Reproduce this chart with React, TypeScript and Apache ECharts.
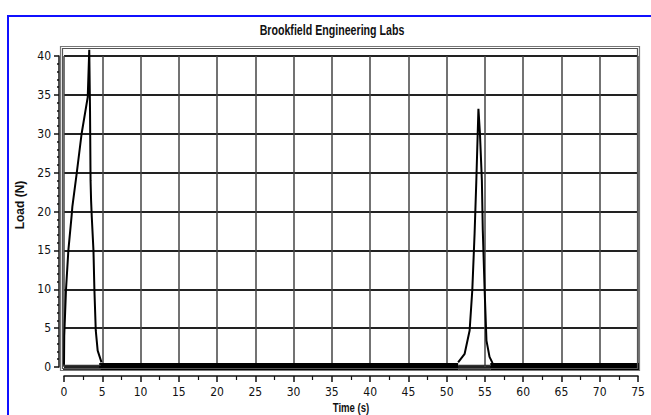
import React, { useEffect, useRef } from "react";
import * as echarts from "echarts";

const titleText = "Brookfield Engineering Labs";
const xAxisName = "Time (s)";
const yAxisName = "Load (N)";

// first load cycle (time s, load N)
const peak1Time = [0, 0.03, 0.26, 0.57, 1.0, 1.09, 1.66, 2.3, 3.1, 3.3, 3.4, 3.47, 3.54, 3.63, 3.85, 3.97, 4.15, 4.4, 4.9];
const peak1Load = [0.3, 4, 9.9, 15, 19.5, 20.6, 24.9, 30, 34.7, 40.8, 33, 24, 21.4, 19.3, 15, 10, 4.7, 2.1, 0.6];

// second load cycle
const peak2Time = [51.5, 52.35, 53.0, 53.35, 53.65, 53.87, 54.15, 54.35, 54.6, 54.72, 54.96, 55.2, 55.6, 56.0];
const peak2Load = [0.6, 1.7, 4.7, 9.9, 17.2, 23.8, 33.2, 30, 24, 17.6, 9.9, 3.4, 1.3, 0.5];

// baseline noise band segments (time start/end), load level
const bandStart = [4.6, 55.7];
const bandEnd = [51.5, 75.2];
const bandLoad = 0;

// hollow baseline segments under the peaks
const hollowStart = [-0.35, 51.5];
const hollowEnd = [4.8, 55.7];
const hollowUpper = 0.2;
const hollowLower = -0.33;

const FONT = '"DejaVu Sans Condensed", "Liberation Sans Narrow", sans-serif';
const TITLE_FONT = '"Liberation Sans", Arial, sans-serif';

function pairs(t: number[], v: number[]) {
  return t.map((x, i) => [x, v[i]]);
}

function segments(starts: number[], ends: number[], level: number) {
  const out: any[] = [];
  starts.forEach((s, i) => {
    out.push([s, level]);
    out.push([ends[i], level]);
    if (i < starts.length - 1) out.push([ends[i], "-"]);
  });
  return out;
}

export default function App() {
  const ref = useRef<HTMLDivElement>(null);
  useEffect(() => {
    document.body.style.margin = "0";
    const chart = echarts.init(ref.current!, null, { renderer: "svg" });
    const lineBase = { type: "line", showSymbol: false, symbol: "none", clip: false, animation: false };
    chart.setOption({
      animation: false,
      backgroundColor: "#ffffff",
      grid: { left: 64, right: 13, top: 56, bottom: 48, containLabel: false },
      xAxis: {
        type: "value",
        min: 0,
        max: 75,
        interval: 5,
        offset: 9,
        axisLine: { show: true, onZero: false, lineStyle: { color: "#111", width: 1.5 } },
        axisTick: { show: true, length: 6, lineStyle: { color: "#111", width: 1.5 } },
        minorTick: { show: true, splitNumber: 2, length: 4, lineStyle: { color: "#111", width: 1.2 } },
        axisLabel: { color: "#111", fontFamily: FONT, fontSize: 12, margin: 10 },
        splitLine: { show: true, lineStyle: { color: "#444", width: 1.5 } },
      },
      yAxis: {
        type: "value",
        min: 0,
        max: 40,
        interval: 5,
        offset: 5,
        axisLine: { show: true, onZero: false, lineStyle: { color: "#111", width: 1.5 } },
        axisTick: { show: true, length: 5, lineStyle: { color: "#111", width: 1.5 } },
        minorTick: { show: true, splitNumber: 5, length: 2, lineStyle: { color: "#111", width: 1.5 } },
        axisLabel: { color: "#111", fontFamily: FONT, fontSize: 12, margin: 8 },
        splitLine: { show: true, lineStyle: { color: "#222", width: 2 } },
      },
      graphic: [
        {
          type: "rect",
          shape: { x: 8, y: 16, width: 800, height: 600 },
          style: { fill: "none", stroke: "#1010ff", lineWidth: 2 },
          z: 0,
        },
        {
          type: "rect",
          shape: { x: 60.5, y: 46.5, width: 579, height: 324 },
          style: { fill: "none", stroke: "#777", lineWidth: 1.2 },
          z: 10,
        },
        {
          type: "rect",
          shape: { x: 62.5, y: 48.5, width: 575, height: 320 },
          style: { fill: "none", stroke: "#555", lineWidth: 1.2 },
          z: 10,
        },
        {
          type: "text",
          x: 332,
          y: 30,
          scaleX: 0.76,
          style: { text: titleText, fontFamily: TITLE_FONT, fontWeight: "bold", fontSize: 14, fill: "#111", textAlign: "center", textVerticalAlign: "middle" },
          z: 10,
        },
        {
          type: "text",
          x: 351,
          y: 408,
          scaleX: 0.8,
          style: { text: xAxisName, fontFamily: TITLE_FONT, fontWeight: "bold", fontSize: 12, fill: "#111", textAlign: "center", textVerticalAlign: "middle" },
          z: 10,
        },
        {
          type: "text",
          x: 20,
          y: 205,
          rotation: Math.PI / 2,
          style: { text: yAxisName, fontFamily: TITLE_FONT, fontWeight: "bold", fontSize: 12, fill: "#111", textAlign: "center", textVerticalAlign: "middle" },
          z: 10,
        },
      ],
      series: [
        { ...lineBase, name: "band", data: segments(bandStart, bandEnd, bandLoad), lineStyle: { color: "#000", width: 8 }, z: 3 },
        { ...lineBase, name: "hollowUpper", data: segments(hollowStart, hollowEnd, hollowUpper), lineStyle: { color: "#333", width: 1.2 }, z: 3 },
        { ...lineBase, name: "hollowLower", data: segments(hollowStart, hollowEnd, hollowLower), lineStyle: { color: "#333", width: 1.2 }, z: 3 },
        { ...lineBase, name: "cycle1", data: pairs(peak1Time, peak1Load), lineStyle: { color: "#000", width: 2 }, z: 4 },
        { ...lineBase, name: "cycle2", data: pairs(peak2Time, peak2Load), lineStyle: { color: "#000", width: 2 }, z: 4 },
      ],
    });
    return () => chart.dispose();
  }, []);
  return <div ref={ref} style={{ position: "absolute", left: 0, top: 0, width: 651, height: 415, background: "#fff" }} />;
}
